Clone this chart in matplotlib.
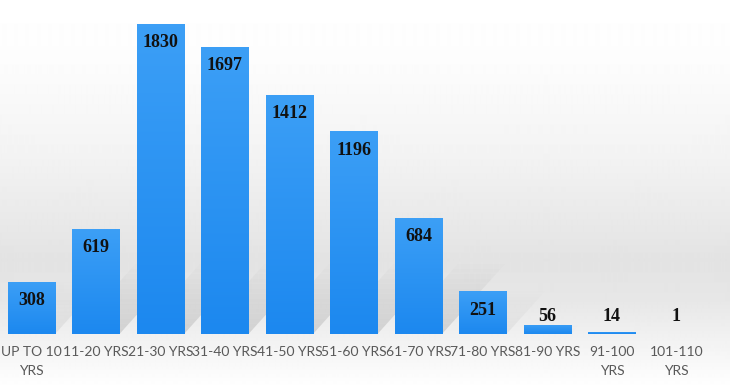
import numpy as np
import matplotlib.pyplot as plt
from matplotlib.colors import LinearSegmentedColormap

categories = ['UP TO 10\nYRS', '11-20 YRS', '21-30 YRS', '31-40 YRS', '41-50 YRS',
              '51-60 YRS', '61-70 YRS', '71-80 YRS', '81-90 YRS', '91-100\nYRS', '101-110\nYRS']
counts = [308, 619, 1830, 1697, 1412, 1196, 684, 251, 56, 14, 1]

W, H = 730, 388
fig = plt.figure(figsize=(W / 100, H / 100), dpi=100)

# background: white at top, grey near the base, white again at the bottom
bg = fig.add_axes([0, 0, 1, 1], zorder=0)
rows = np.arange(H)
shade = np.interp(rows, [0, 60, 150, 260, 300, 388], [1.0, 0.99, 0.955, 0.89, 0.905, 1.0])
bg.imshow(np.repeat(shade[:, None], 2, axis=1), cmap='gray', vmin=0, vmax=1,
          aspect='auto', extent=[0, 1, 0, 1], interpolation='bilinear')
bg.set_axis_off()

base_px = 334
ax = fig.add_axes([0, (H - base_px) / H, 1, base_px / H], zorder=1)
ax.patch.set_alpha(0)
ymax = 1830 * base_px / 310
ax.set_xlim(-0.488, 10.83)
ax.set_ylim(0, ymax)

x = np.arange(len(categories))
width = 0.73
ux = 1 / 64.5          # data units per pixel, x
uy = ymax / base_px    # data units per pixel, y

# soft perspective shadows behind the bars
for xi, v in zip(x, counts):
    h_px = min(v / uy, 70)
    n = 14
    for k in range(n):
        y0 = h_px * k / n
        y1 = h_px * (k + 1) / n
        a = 0.26 * (1 - k / n) * min(1, v / 600)
        x0 = xi - width / 2
        x1 = xi + width / 2
        sk = 0.9
        xs = [x0 + sk * y0 * ux, x1 + sk * y0 * ux, x1 + sk * y1 * ux, x0 + sk * y1 * ux]
        ys = [y0 * uy, y0 * uy, y1 * uy, y1 * uy]
        ax.fill(xs, ys, color='#808080', alpha=a, lw=0, zorder=1)

bars = ax.bar(x, counts, width=width, color='none', zorder=2)
cmap = LinearSegmentedColormap.from_list('bl', ['#1c88ef', '#3c9ff6'])
grad = np.linspace(0, 1, 100)[:, None]
for b in bars:
    im = ax.imshow(grad, cmap=cmap, origin='lower', aspect='auto',
                   extent=[b.get_x(), b.get_x() + b.get_width(), 0, b.get_height()],
                   zorder=3, interpolation='bilinear')
    im.set_clip_path(b)
ax.set_xlim(-0.488, 10.83)
ax.set_ylim(0, ymax)

for xi, v in zip(x, counts):
    ly = max(v, 214) - 110
    ax.text(xi, ly, str(v), ha='center', va='center', fontsize=13,
            fontweight='bold', family='Liberation Serif', color='#111111', zorder=4)

ax.set_xticks(x)
ax.set_xticklabels(categories, fontsize=10, family='Lato', color='#595959',
                   linespacing=1.65)
ax.tick_params(axis='x', length=0, pad=9)
ax.set_yticks([])
for s in ax.spines.values():
    s.set_visible(False)

fig.savefig('out.png', dpi=100)
